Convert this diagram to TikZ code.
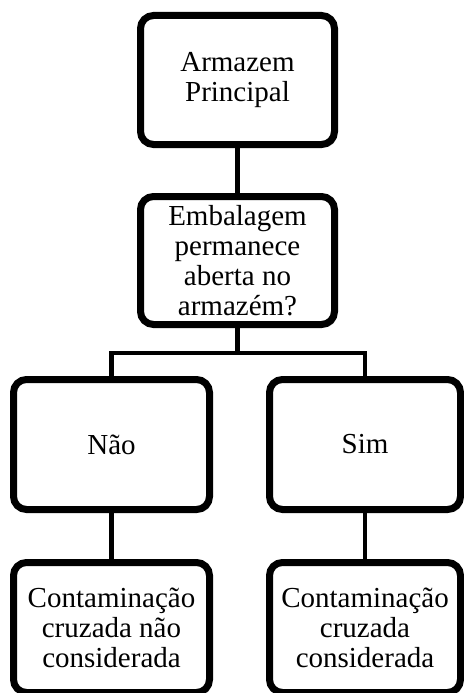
\documentclass[tikz,border=0pt]{standalone}
\usepackage{fontspec}
\setmainfont{Liberation Serif}
\usetikzlibrary{shadows,backgrounds}
\begin{document}
\begin{tikzpicture}[x=1pt,y=1pt,
  boxnode/.style={draw=black, line width=7pt, fill=white, rounded corners=13pt,
    align=center, font=\fontsize{29}{30}\selectfont, inner sep=0pt,
    drop shadow={shadow xshift=2.5pt, shadow yshift=-3pt, fill=black, opacity=0.28}},
  link/.style={line width=4.5pt, line join=miter}]
\useasboundingbox (0,0) rectangle (463,-693);
\node[boxnode, minimum width=194pt, minimum height=129pt] (A) at (237.5,-80) {Armazem\\Principal};
\node[boxnode, minimum width=194pt, minimum height=128pt] (B) at (237.5,-260.5) {Embalagem\\permanece\\aberta no\\armazém?};
\node[boxnode, minimum width=196pt, minimum height=130pt] (C) at (111.5,-444.5) {Não};
\node[boxnode, minimum width=191pt, minimum height=130pt] (D) at (365,-444.5) {Sim};
\node[boxnode, minimum width=196pt, minimum height=130pt] (E) at (111.5,-627.5) {Contaminação\\cruzada não\\considerada};
\node[boxnode, minimum width=191pt, minimum height=130pt] (F) at (365,-627.5) {Contaminação\\cruzada\\considerada};
\coordinate (j) at (237.5,-353);
\coordinate (jl) at (C.north |- j);
\coordinate (jr) at (D.north |- j);
\begin{scope}[on background layer]
\draw[link] (A.south) -- (B.north);
\draw[link] (B.south) -- (j);
\draw[link] (C.north) -- (jl) -- (jr) -- (D.north);
\draw[link] (C.south) -- (E.north);
\draw[link] (D.south) -- (F.north);
\end{scope}
\end{tikzpicture}
\end{document}
